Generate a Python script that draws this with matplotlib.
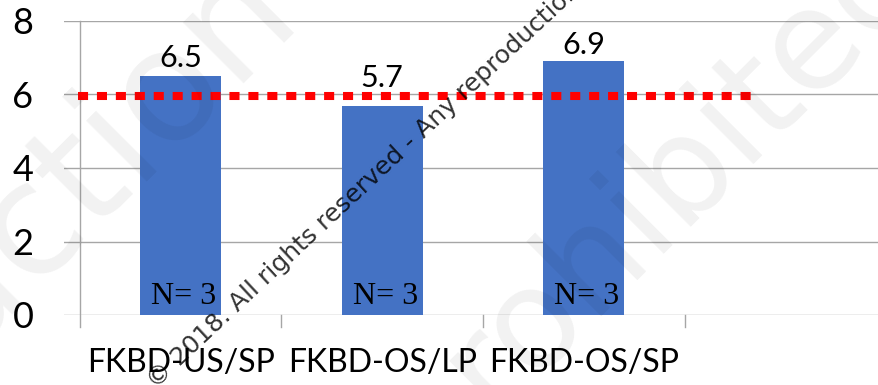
import numpy as np
import matplotlib
matplotlib.use('Agg')
import matplotlib.pyplot as plt

# chart data
categories = ['FKBD-US/SP', 'FKBD-OS/LP', 'FKBD-OS/SP']
values = [6.5, 5.7, 6.9]
value_labels = ['6.5', '5.7', '6.9']
n_labels = ['N= 3', 'N= 3', 'N= 3']
reference = 5.95
y_ticks = [0, 2, 4, 6, 8]

# styling
bar_color = '#4472C4'
grid_color = '#a6a6a6'
label_pad = [0.24, 0.5, 0.19]
main_font = ['Lato', 'DejaVu Sans']

W, H = 879, 385
fig = plt.figure(figsize=(W / 100, H / 100), dpi=100)
ax = fig.add_axes([64 / W, (H - 315) / H, 1 - 64 / W, 294 / H])
ax.set_xlim(-0.579, 3.465)
ax.set_ylim(0, 8)
for s in ax.spines.values():
    s.set_visible(False)


def px(x, y):
    return x / W, 1 - y / H


# gridlines and axis lines
for t in y_ticks:
    ax.axhline(t, color=grid_color, lw=1.0, zorder=1)
ax.plot([-0.5, -0.5], [-0.33, 8], color=grid_color, lw=1.0, clip_on=False, zorder=1)
for b in [0.5, 1.5, 2.5, 3.5]:
    ax.plot([b, b], [-0.33, 0], color=grid_color, lw=1.0, clip_on=False, zorder=1)

x = np.arange(len(categories))
ax.bar(x, values, width=0.4, color=bar_color, zorder=2)

# reference line
ax.plot([-0.51, 2.845], [reference, reference], color='#ff0000', lw=5.8,
        dashes=(1.25, 1.1), solid_capstyle='butt', dash_capstyle='butt', zorder=3)

for i, v in enumerate(values):
    ax.text(x[i], v + label_pad[i], value_labels[i], ha='center', va='baseline',
            fontsize=22, family=main_font, zorder=4)
    ax.text(x[i] + 0.015, 0.3, n_labels[i], ha='center', va='baseline',
            fontsize=23, family='Liberation Serif', zorder=4)

ax.set_yticks(y_ticks)
ax.set_yticklabels([str(t) for t in y_ticks], fontsize=26, family=main_font)
ax.tick_params(axis='y', length=0, pad=22)
ax.set_xticks(x)
ax.set_xticklabels(categories, fontsize=23, family=main_font)
ax.tick_params(axis='x', length=0, pad=24)

# faint watermark over everything
fig.text(*px(300, 12), 'Reproduction', rotation=45, rotation_mode='anchor',
         ha='right', va='baseline', fontsize=112, color='black', alpha=0.055,
         family='DejaVu Sans', zorder=10)
fig.text(*px(930, -25), 'prohibited', rotation=45, rotation_mode='anchor',
         ha='right', va='baseline', fontsize=100, color='black', alpha=0.055,
         family='DejaVu Sans', zorder=10)

# copyright stamp
fig.text(*px(156, 389), '\u00a9 2018. All rights reserved - Any reproduction prohibited',
         rotation=43, rotation_mode='anchor', ha='left', va='baseline',
         fontsize=18, color='black', alpha=0.8, family='DejaVu Sans', zorder=11)

fig.savefig('out.png', dpi=100)
